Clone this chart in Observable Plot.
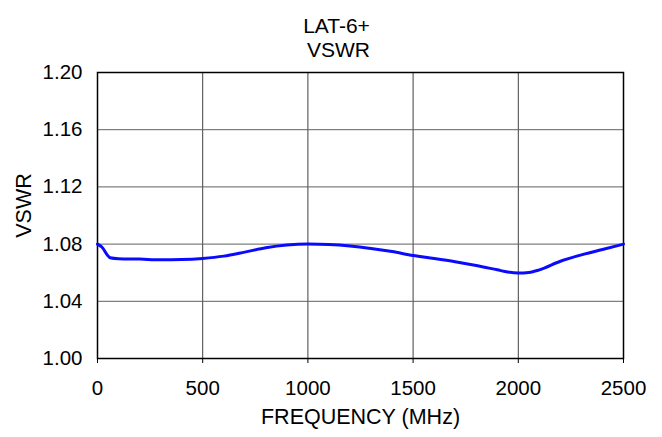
<!DOCTYPE html>
<html>
<head>
<meta charset="utf-8">
<script src="https://cdn.jsdelivr.net/npm/d3@7"></script>
<script src="https://cdn.jsdelivr.net/npm/@observablehq/plot@0.6"></script>
<style>
  body { margin: 0; background: #fff; }
  svg { font-family: "Liberation Sans", Arial, sans-serif; }
</style>
</head>
<body>
<div id="chart"></div>
<script>
const titleLines = ["LAT-6+", "VSWR"];
const xLabel = "FREQUENCY (MHz)";
const yLabel = "VSWR";
const xTicks = [0, 500, 1000, 1500, 2000, 2500];
const yTicks = [1.00, 1.04, 1.08, 1.12, 1.16, 1.20];
const freq = [0, 20, 60, 100, 200, 300, 400, 500, 600, 700, 800, 900, 1000, 1100, 1200, 1300, 1400, 1500, 1600, 1700, 1800, 1900, 1950, 2000, 2050, 2100, 2200, 2300, 2400, 2500];
const vswr = [1.0800, 1.0780, 1.0705, 1.0698, 1.0695, 1.0690, 1.0692, 1.0700, 1.0716, 1.0744, 1.0774, 1.0793, 1.0800, 1.0797, 1.0787, 1.0770, 1.0748, 1.0721, 1.0700, 1.0677, 1.0650, 1.0620, 1.0605, 1.0598, 1.0602, 1.0620, 1.0680, 1.0725, 1.0762, 1.0800];

const data = freq.map((f, i) => ({f, v: vswr[i]}));

const chart = Plot.plot({
  width: 662,
  height: 437,
  marginTop: 72,
  marginBottom: 79,
  marginLeft: 97,
  marginRight: 39,
  style: {fontSize: "20px", fontFamily: "Liberation Sans, Arial, sans-serif", color: "#000", background: "#fff"},
  x: {domain: [0, 2500]},
  y: {domain: [1.00, 1.20]},
  marks: [
    Plot.gridX(xTicks, {stroke: "#404040", strokeOpacity: 1, strokeWidth: 1}),
    Plot.gridY(yTicks, {stroke: "#606060", strokeOpacity: 1, strokeWidth: 1}),
    Plot.frame({stroke: "#000", strokeWidth: 1.5}),
    Plot.axisX(xTicks, {tickSize: 5, tickPadding: 17, tickFormat: d3.format("d"), label: null, fontSize: 20.5}),
    Plot.axisY(yTicks, {tickSize: 0, tickPadding: 15, tickFormat: d3.format(".2f"), label: null, fontSize: 20.5}),
    Plot.line(data, {x: "f", y: "v", stroke: "#0a0aff", strokeWidth: 3, curve: "monotone-x"}),
    Plot.text([titleLines[0]], {frameAnchor: "top", dx: -24, dy: -54, text: d => d, fontSize: 21}),
    Plot.text([titleLines[1]], {frameAnchor: "top", dx: -22, dy: -30, text: d => d, fontSize: 21}),
    Plot.text([xLabel], {frameAnchor: "bottom", dy: 65, text: d => d, fontSize: 21.5}),
    Plot.text([yLabel], {frameAnchor: "left", textAnchor: "middle", dx: -73.5, dy: -10, rotate: -90, text: d => d, fontSize: 21.5})
  ]
});
document.getElementById("chart").appendChild(chart);
</script>
</body>
</html>
